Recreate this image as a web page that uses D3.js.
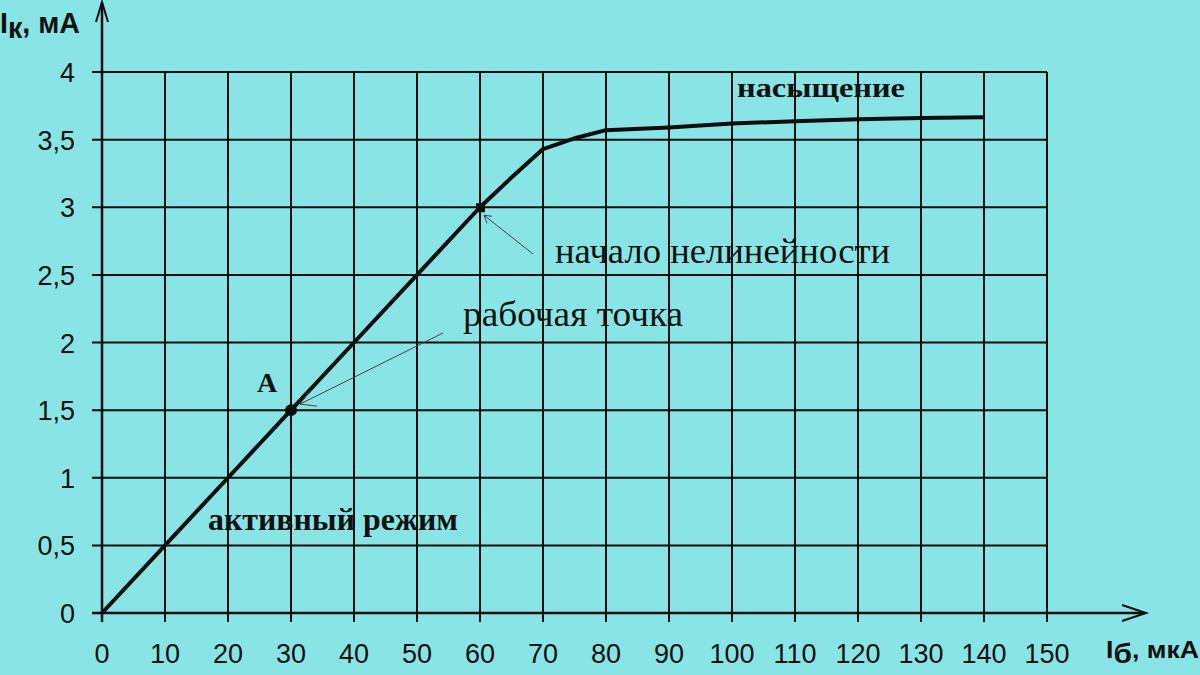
<!DOCTYPE html>
<html><head><meta charset="utf-8">
<script src="https://cdn.jsdelivr.net/npm/d3@7"></script>
<style>html,body{margin:0;padding:0;background:#89e4e6;}svg{display:block;}</style>
</head><body>
<svg id="c" width="1200" height="675"></svg>
<script>
// ---- data ----
const xTicks = [0,10,20,30,40,50,60,70,80,90,100,110,120,130,140,150];
const yTicks = [0,0.5,1,1.5,2,2.5,3,3.5,4];
const yTickLabels = ["0","0,5","1","1,5","2","2,5","3","3,5","4"];
const ibValues = [0,10,20,30,40,50,60,65,70,75,80,90,100,110,120,130,140];
const ikValues = [0,0.5,1,1.5,2,2.5,3,3.22,3.43,3.51,3.57,3.59,3.62,3.635,3.65,3.66,3.665];
const workPoint = [30,1.5];
const nonlinPoint = [60,3];

const svg = d3.select("#c");
const ink = "#0d0d0d";
const x = d3.scaleLinear().domain([0,150]).range([102,1047]);
const y = d3.scaleLinear().domain([0,4]).range([613,72]);

svg.append("rect").attr("width",1200).attr("height",675).attr("fill","#89e4e6");

// grid: vertical
const g = svg.append("g");
g.selectAll(".vg").data(xTicks.slice(1)).join("line")
  .attr("x1",d=>x(d)).attr("x2",d=>x(d)).attr("y1",y(4)).attr("y2",y(0)+9)
  .attr("stroke",ink).attr("stroke-width",2);
// grid: horizontal
g.selectAll(".hg").data(yTicks.slice(1)).join("line")
  .attr("x1",x(0)-10).attr("x2",x(150)).attr("y1",d=>y(d)).attr("y2",d=>y(d))
  .attr("stroke",ink).attr("stroke-width",2);
// axes
g.append("line").attr("x1",x(0)).attr("x2",x(0)).attr("y1",y(0)+9).attr("y2",3)
  .attr("stroke",ink).attr("stroke-width",2.5);
g.append("line").attr("x1",x(0)-10).attr("x2",1145).attr("y1",y(0)).attr("y2",y(0))
  .attr("stroke",ink).attr("stroke-width",2.5);
// arrowheads on axes
g.append("path").attr("d",`M${x(0)-6},22 L${x(0)},2 L${x(0)+6},22`).attr("fill","none").attr("stroke",ink).attr("stroke-width",2);
g.append("path").attr("d",`M1122,605 L1146,${y(0)} L1122,621`).attr("fill","none").attr("stroke",ink).attr("stroke-width",2);

// tick labels
const tickFont = "'Liberation Sans', Arial, sans-serif";
svg.selectAll(".xl").data(xTicks).join("text")
  .attr("x",d=>x(d)).attr("y",663).attr("text-anchor","middle")
  .attr("font-family",tickFont).attr("font-size",27).attr("fill","#111")
  .text(d=>d);
svg.selectAll(".yl").data(yTicks).join("text")
  .attr("x",75).attr("y",d=>y(d)+10).attr("text-anchor","end")
  .attr("font-family",tickFont).attr("font-size",27).attr("fill","#111")
  .text((d,i)=>yTickLabels[i]);

// axis titles
const yt = svg.append("text").attr("x",0).attr("y",33)
  .attr("font-family",tickFont).attr("font-weight","bold").attr("font-size",29).attr("fill","#111")
  .attr("textLength",80).attr("lengthAdjust","spacingAndGlyphs");
yt.append("tspan").text("I");
yt.append("tspan").attr("dy",5).text("к");
yt.append("tspan").attr("dy",-5).text(", мА");
const xt = svg.append("text").attr("x",1106).attr("y",658)
  .attr("font-family",tickFont).attr("font-weight","bold").attr("font-size",24).attr("fill","#111")
  .attr("textLength",93).attr("lengthAdjust","spacingAndGlyphs");
xt.append("tspan").text("I");
xt.append("tspan").attr("dy",5).attr("font-size",27).text("б");
xt.append("tspan").attr("dy",-5).text(", мкА");

// curve
const line = d3.line().x((d,i)=>x(ibValues[i])).y((d,i)=>y(ikValues[i]));
svg.append("path").datum(ikValues).attr("d",line)
  .attr("fill","none").attr("stroke",ink).attr("stroke-width",4).attr("stroke-linejoin","round");

// markers
svg.append("circle").attr("cx",x(workPoint[0])).attr("cy",y(workPoint[1])).attr("r",6).attr("fill",ink);
svg.append("rect").attr("x",x(nonlinPoint[0])-4).attr("y",y(nonlinPoint[1])-4).attr("width",9).attr("height",9).attr("fill",ink);

// annotations
const serif = "'Liberation Serif', 'Times New Roman', serif";
svg.append("text").attr("x",737).attr("y",97).attr("font-family",serif).attr("font-weight","bold")
  .attr("font-size",28).attr("textLength",168).attr("lengthAdjust","spacingAndGlyphs").attr("fill","#111").text("насыщение");
svg.append("text").attr("x",555).attr("y",263).attr("font-family",serif)
  .attr("font-size",35).attr("textLength",335).attr("lengthAdjust","spacingAndGlyphs").attr("fill","#111").text("начало нелинейности");
svg.append("text").attr("x",463).attr("y",326).attr("font-family",serif)
  .attr("font-size",35).attr("textLength",220).attr("lengthAdjust","spacingAndGlyphs").attr("fill","#111").text("рабочая точка");
svg.append("text").attr("x",208).attr("y",530).attr("font-family",serif).attr("font-weight","bold")
  .attr("font-size",32).attr("textLength",250).attr("lengthAdjust","spacingAndGlyphs").attr("fill","#111").text("активный режим");
svg.append("text").attr("x",257).attr("y",392).attr("font-family",serif).attr("font-weight","bold")
  .attr("font-size",28).attr("fill","#111").text("А");

// pointer arrows
const arr = svg.append("g").attr("stroke","#444").attr("stroke-width",1).attr("fill","none");
arr.append("line").attr("x1",533).attr("y1",254).attr("x2",x(nonlinPoint[0])+4).attr("y2",y(nonlinPoint[1])+8);
arr.append("path").attr("d",`M${x(nonlinPoint[0])+12},${y(nonlinPoint[1])+9} L${x(nonlinPoint[0])+4},${y(nonlinPoint[1])+8} L${x(nonlinPoint[0])+7},${y(nonlinPoint[1])+16}`);
arr.append("line").attr("x1",443).attr("y1",333).attr("x2",x(workPoint[0])+9).attr("y2",y(workPoint[1])-6);
arr.append("path").attr("d",`M${x(workPoint[0])+20},${y(workPoint[1])-21} L${x(workPoint[0])+9},${y(workPoint[1])-6} L${x(workPoint[0])+26},${y(workPoint[1])-4}`);
</script>
</body></html>
